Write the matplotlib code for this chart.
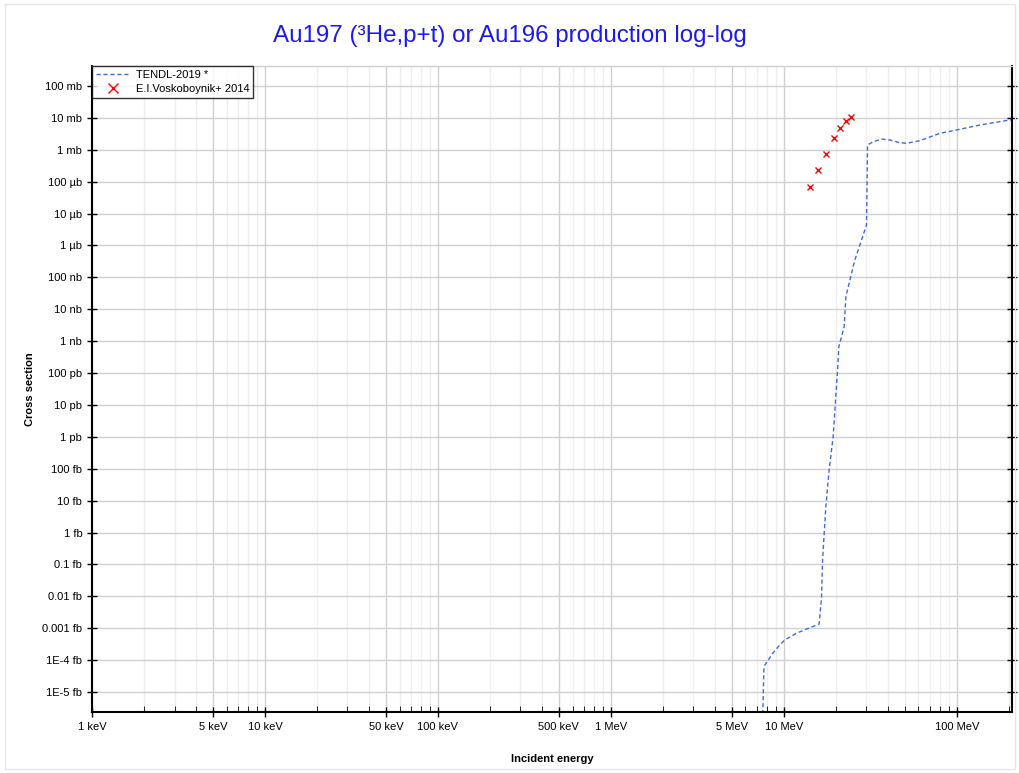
import numpy as np
import matplotlib
matplotlib.use("Agg")
import matplotlib.pyplot as plt
from matplotlib.ticker import FixedLocator, FixedFormatter, NullFormatter
from matplotlib.patches import Rectangle

# TENDL-2019 curve (energy in eV, cross section in barn)
tendl_e = [7.45e6, 7.53e6, 7.66e6, 7.77e6, 8.12e6, 8.68e6, 9.48e6, 10.13e6, 11.84e6,
           16.0e6, 16.52e6, 16.74e6, 17.49e6,
           18.27e6, 19.27e6, 20.44e6, 20.79e6, 22.32e6, 22.83e6, 24.62e6, 25.73e6,
           28.12e6, 30.06e6, 30.46e6, 32.82e6, 36.71e6, 41.0e6, 46.8e6, 51.2e6,
           61.1e6, 79.8e6, 99.6e6, 135.8e6, 202.5e6, 208e6]
tendl_xs = [1e-22, 1e-21, 4.9e-20, 7.1e-20, 1.0e-19, 1.72e-19, 3.0e-19, 4.3e-19, 7.0e-19,
            1.36e-18, 9.8e-18, 1.38e-16, 6.5e-15,
            9.2e-14, 1.01e-12, 1.25e-10, 6.7e-10, 2.85e-9, 2.48e-8, 1.35e-7, 3.5e-7,
            1.49e-6, 4.4e-6, 1.41e-3, 1.79e-3, 2.18e-3, 2.03e-3, 1.67e-3, 1.6e-3,
            1.93e-3, 3.29e-3, 4.18e-3, 5.98e-3, 8.6e-3, 8.8e-3]

# E.I.Voskoboynik+ 2014
exp_e = [14.08e6, 15.73e6, 17.49e6, 19.38e6, 21.07e6, 22.73e6, 24.5e6]
exp_xs = [6.8e-5, 2.25e-4, 7.5e-4, 2.37e-3, 4.97e-3, 8.2e-3, 1.05e-2]

xtick_vals = [1e3, 5e3, 1e4, 5e4, 1e5, 5e5, 1e6, 5e6, 1e7, 1e8]
xtick_labels = ["1 keV", "5 keV", "10 keV", "50 keV", "100 keV", "500 keV",
                "1 MeV", "5 MeV", "10 MeV", "100 MeV"]
ytick_vals = [1e-1, 1e-2, 1e-3, 1e-4, 1e-5, 1e-6, 1e-7, 1e-8, 1e-9, 1e-10,
              1e-11, 1e-12, 1e-13, 1e-14, 1e-15, 1e-16, 1e-17, 1e-18, 1e-19, 1e-20]
ytick_labels = ["100 mb", "10 mb", "1 mb", "100 µb", "10 µb", "1 µb", "100 nb",
                "10 nb", "1 nb", "100 pb", "10 pb", "1 pb", "100 fb", "10 fb",
                "1 fb", "0.1 fb", "0.01 fb", "0.001 fb", "1E-4 fb", "1E-5 fb"]

plt.rcParams['font.family'] = ['Liberation Sans', 'DejaVu Sans']

fig = plt.figure(figsize=(10.2, 7.73), dpi=100)
fig.patches.append(Rectangle((0.005, 0.005), 0.99, 0.99, transform=fig.transFigure,
                             fill=False, edgecolor='#e6e6e6', linewidth=1))
ax = fig.add_axes([0.0902, 0.0789, 0.9018, 0.8357])

ax.plot(tendl_e, tendl_xs, linestyle=(0, (3, 2)), color='#4169e1', linewidth=1,
        label='TENDL-2019 *')
ax.plot(exp_e, exp_xs, linestyle='none', marker='x', color='red', markersize=5,
        markeredgewidth=1, label='E.I.Voskoboynik+ 2014')

ax.set_xscale('log')
ax.set_yscale('log')
ax.set_xlim(1e3, 2.08e8)
ax.set_ylim(10**-20.627, 10**-0.373)

ax.xaxis.set_major_locator(FixedLocator(xtick_vals))
ax.xaxis.set_major_formatter(FixedFormatter(xtick_labels))
ax.xaxis.set_minor_formatter(NullFormatter())
ax.yaxis.set_major_locator(FixedLocator(ytick_vals))
ax.yaxis.set_major_formatter(FixedFormatter(ytick_labels))
ax.yaxis.set_minor_locator(FixedLocator([]))

ax.grid(True, which='major', color='#d0d0d0', linewidth=1)
ax.grid(True, which='minor', axis='x', color='#eeeeee', linewidth=1)
ax.set_axisbelow(True)

ax.tick_params(axis='both', which='major', direction='inout', length=7, width=1,
               labelsize=8, colors='black')
ax.tick_params(axis='x', which='minor', direction='in', length=4)
ax.tick_params(axis='y', which='major', right=True)
for s in ['left', 'bottom', 'right']:
    ax.spines[s].set_linewidth(1.5)
ax.spines['top'].set_color('#d0d0d0')
ax.spines['top'].set_linewidth(1)

ax.set_xlabel('Incident energy', fontsize=8, fontweight='bold', labelpad=16)
ax.set_ylabel('Cross section', fontsize=8, fontweight='bold', labelpad=5)
fig.suptitle('Au197 (³He,p+t) or Au196 production log-log', color='#1a1aee',
             fontsize=17.4, y=0.968)

leg = ax.legend(loc='upper left', fontsize=8, frameon=True, fancybox=False,
                borderaxespad=0.0, handlelength=3.0, handletextpad=0.6,
                borderpad=0.35, labelspacing=0.35, markerscale=1.4)
leg.get_frame().set_edgecolor('black')
leg.get_frame().set_linewidth(1)

fig.savefig('out.png', dpi=100)
